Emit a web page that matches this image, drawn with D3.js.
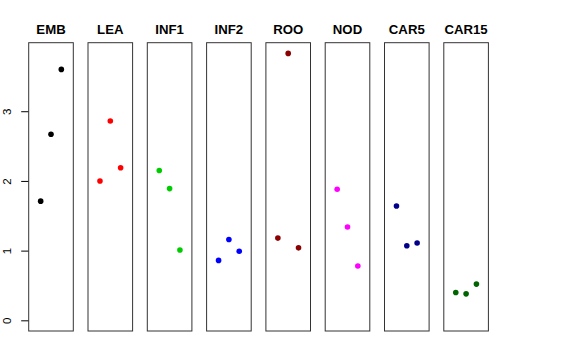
<!DOCTYPE html>
<html>
<head>
<meta charset="utf-8">
<script src="https://cdn.jsdelivr.net/npm/d3@7"></script>
<style>
  body { margin: 0; background: #fff; }
  svg { display: block; }
</style>
</head>
<body>
<div id="chart"></div>
<script>
// panel names and colours
const groups = ["EMB", "LEA", "INF1", "INF2", "ROO", "NOD", "CAR5", "CAR15"];
const colors = ["#000000", "#ff0000", "#00cd00", "#0000ff", "#8b0000", "#ff00ff", "#00008b", "#006400"];

// three values per panel
const EMB = [1.71, 2.67, 3.60];
const LEA = [2.00, 2.86, 2.19];
const INF1 = [2.15, 1.89, 1.01];
const INF2 = [0.86, 1.16, 0.99];
const ROO = [1.18, 3.83, 1.04];
const NOD = [1.88, 1.34, 0.78];
const CAR5 = [1.64, 1.07, 1.11];
const CAR15 = [0.40, 0.38, 0.52];
const yTicks = [0, 1, 2, 3];

const values = [EMB, LEA, INF1, INF2, ROO, NOD, CAR5, CAR15];

const width = 576, height = 360;
const plotTop = 42.7, plotBottom = 331;
const firstLeft = 28.7, panelW = 44.6, step = 59.3;

const svg = d3.select("#chart").append("svg")
  .attr("width", width).attr("height", height);

// y range: 0 .. max with 4% padding like R
const yMax = d3.max(values.flat());
const pad = yMax * 0.04;
const y = d3.scaleLinear().domain([0 - pad, yMax + pad]).range([plotBottom, plotTop]);

// y axis on the left of the first panel
const yAxis = svg.append("g")
  .attr("transform", `translate(${firstLeft},0)`)
  .call(d3.axisLeft(y).tickValues(yTicks).tickSize(7.5).tickFormat(d3.format("d")));
yAxis.select(".domain").remove();
yAxis.selectAll("line").attr("stroke", "#000");
yAxis.selectAll("text")
  .attr("font-family", "Liberation Sans, Arial, sans-serif")
  .attr("font-size", 11.5)
  .attr("fill", "#000")
  .attr("text-anchor", "middle")
  .attr("transform", "rotate(-90)")
  .attr("x", 0)
  .attr("y", -17.5)
  .attr("dy", 0);

groups.forEach((g, i) => {
  const left = firstLeft + i * step;
  // x scale: positions 1..3 within 0..4 with 4% padding
  const x = d3.scaleLinear().domain([-0.16, 4.16]).range([left, left + panelW]);

  svg.append("rect")
    .attr("x", left).attr("y", plotTop)
    .attr("width", panelW).attr("height", plotBottom - plotTop)
    .attr("fill", "none").attr("stroke", "#333").attr("stroke-width", 1);

  svg.append("text")
    .attr("x", left + panelW / 2).attr("y", 34)
    .attr("text-anchor", "middle")
    .attr("font-family", "Liberation Sans, Arial, sans-serif")
    .attr("font-weight", "bold")
    .attr("font-size", 13.2)
    .text(g);

  svg.selectAll(null).data(values[i]).enter().append("circle")
    .attr("cx", (d, j) => x(j + 1))
    .attr("cy", d => y(d))
    .attr("r", 2.8)
    .attr("fill", colors[i]);
});
</script>
</body>
</html>
